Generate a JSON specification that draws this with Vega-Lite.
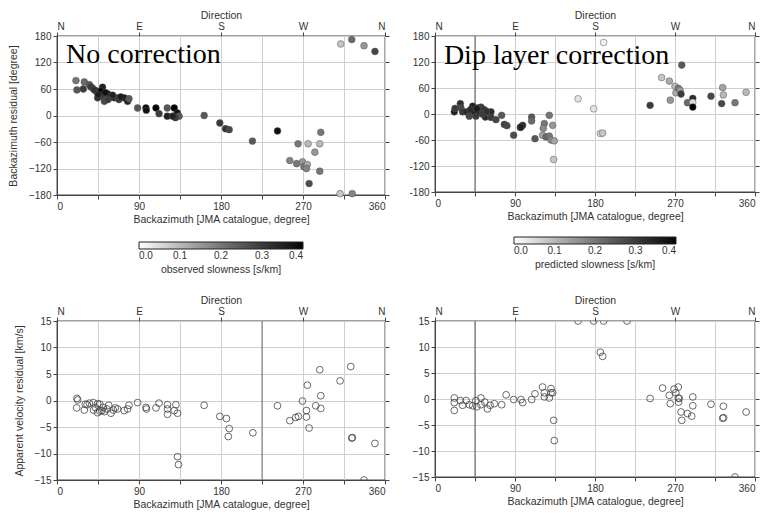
{
  "$schema": "https://vega.github.io/schema/vega-lite/v6.json",
  "padding": {"left": 7, "top": 9, "right": 5, "bottom": 5},
  "background": "white",
  "config": {
    "font": "Liberation Sans",
    "view": {"stroke": "#444", "strokeWidth": 1.3},
    "axis": {
      "labelFont": "Liberation Sans", "titleFont": "Liberation Sans",
      "labelFontSize": 10, "titleFontSize": 10.5, "titleFontWeight": "normal",
      "labelColor": "#333", "titleColor": "#333",
      "gridColor": "#cfcfcf", "gridWidth": 1,
      "domainColor": "#444", "tickColor": "#444", "tickSize": 4, "labelPadding": 2
    },
    "legend": {"labelFont": "Liberation Sans", "titleFont": "Liberation Sans"}
  },
  "datasets": {
    "tl": [
      {"az": 20.8, "res": 79, "s": 0.2}, {"az": 21.9, "res": 58, "s": 0.25}, {"az": 30, "res": 76, "s": 0.22},
      {"az": 28.9, "res": 60, "s": 0.3}, {"az": 35.5, "res": 70, "s": 0.25}, {"az": 39, "res": 62, "s": 0.28},
      {"az": 42.8, "res": 56, "s": 0.33}, {"az": 46.4, "res": 51, "s": 0.38}, {"az": 50, "res": 64, "s": 0.35},
      {"az": 49.3, "res": 44, "s": 0.3}, {"az": 52, "res": 32, "s": 0.28}, {"az": 44.6, "res": 40, "s": 0.32},
      {"az": 55.6, "res": 49, "s": 0.4}, {"az": 59, "res": 44, "s": 0.38}, {"az": 63, "res": 40, "s": 0.35},
      {"az": 57.4, "res": 40, "s": 0.36}, {"az": 66.5, "res": 40, "s": 0.33}, {"az": 73.8, "res": 40, "s": 0.38},
      {"az": 77.5, "res": 32, "s": 0.35}, {"az": 79, "res": 38, "s": 0.25}, {"az": 68, "res": 36, "s": 0.3},
      {"az": 37, "res": 65, "s": 0.3}, {"az": 48, "res": 55, "s": 0.4}, {"az": 53, "res": 52, "s": 0.38},
      {"az": 61, "res": 46, "s": 0.35}, {"az": 45, "res": 48, "s": 0.36}, {"az": 56, "res": 36, "s": 0.3},
      {"az": 41, "res": 58, "s": 0.32}, {"az": 70, "res": 42, "s": 0.36},
      {"az": 88.5, "res": 17, "s": 0.25}, {"az": 97.6, "res": 17, "s": 0.4}, {"az": 98, "res": 12, "s": 0.38},
      {"az": 108.6, "res": 17, "s": 0.4}, {"az": 112, "res": 4, "s": 0.3}, {"az": 121, "res": 17, "s": 0.25},
      {"az": 121, "res": -1.5, "s": 0.35}, {"az": 128.7, "res": 17, "s": 0.4}, {"az": 132, "res": 6, "s": 0.38},
      {"az": 134, "res": -1.5, "s": 0.25}, {"az": 130, "res": -5, "s": 0.3}, {"az": 127, "res": -1.5, "s": 0.35},
      {"az": 161.5, "res": 0, "s": 0.25}, {"az": 178.7, "res": -17, "s": 0.3}, {"az": 185, "res": -30, "s": 0.32},
      {"az": 189, "res": -32, "s": 0.28}, {"az": 214.5, "res": -58, "s": 0.25}, {"az": 242, "res": -35, "s": 0.38},
      {"az": 289.5, "res": -38, "s": 0.2}, {"az": 264.6, "res": -64, "s": 0.2}, {"az": 275.6, "res": -64, "s": 0.1},
      {"az": 288.4, "res": -64, "s": 0.1}, {"az": 283, "res": -83, "s": 0.15}, {"az": 255.5, "res": -102, "s": 0.18},
      {"az": 263, "res": -109, "s": 0.2}, {"az": 269.5, "res": -105, "s": 0.15}, {"az": 271, "res": -116, "s": 0.2},
      {"az": 274.8, "res": -111, "s": 0.12}, {"az": 273.8, "res": -120, "s": 0.18}, {"az": 288.4, "res": -126, "s": 0.2},
      {"az": 276.7, "res": -154, "s": 0.27}, {"az": 310.7, "res": -177, "s": 0.08}, {"az": 324, "res": -177, "s": 0.18},
      {"az": 311.4, "res": 162, "s": 0.08}, {"az": 323.5, "res": 172, "s": 0.22}, {"az": 337, "res": 158, "s": 0.15},
      {"az": 349, "res": 145, "s": 0.28}
    ],
    "tr": [
      {"az": 21.7, "res": 5, "s": 0.35}, {"az": 22.5, "res": 13, "s": 0.3}, {"az": 28.5, "res": 24, "s": 0.32},
      {"az": 29.2, "res": 14, "s": 0.28}, {"az": 31, "res": 5, "s": 0.3}, {"az": 35, "res": 5, "s": 0.33},
      {"az": 38.6, "res": -5, "s": 0.28}, {"az": 42.4, "res": 18, "s": 0.35}, {"az": 44.2, "res": 5, "s": 0.38},
      {"az": 46, "res": -5, "s": 0.3}, {"az": 48, "res": 14, "s": 0.33}, {"az": 50, "res": 5, "s": 0.35},
      {"az": 51.7, "res": 16, "s": 0.3}, {"az": 55.4, "res": 10, "s": 0.32}, {"az": 56.6, "res": -7, "s": 0.33},
      {"az": 61, "res": 1, "s": 0.28}, {"az": 63, "res": 5, "s": 0.33}, {"az": 63, "res": -8, "s": 0.3},
      {"az": 68.6, "res": -13, "s": 0.28}, {"az": 75, "res": -3, "s": 0.25}, {"az": 78, "res": -24, "s": 0.3},
      {"az": 81, "res": -27, "s": 0.28}, {"az": 88.5, "res": -49, "s": 0.27}, {"az": 96, "res": -31, "s": 0.36},
      {"az": 98.6, "res": -26, "s": 0.33}, {"az": 96.7, "res": -30, "s": 0.35},
      {"az": 40, "res": 10, "s": 0.33}, {"az": 47, "res": 12, "s": 0.36}, {"az": 53, "res": 0, "s": 0.3}, {"az": 58, "res": 6, "s": 0.32},
      {"az": 108.7, "res": -7, "s": 0.25}, {"az": 108.7, "res": -16, "s": 0.22}, {"az": 112.5, "res": -57, "s": 0.25},
      {"az": 123, "res": -22, "s": 0.2}, {"az": 121.8, "res": -33, "s": 0.17}, {"az": 121, "res": -49, "s": 0.13},
      {"az": 124.9, "res": -53, "s": 0.22}, {"az": 128.6, "res": -3, "s": 0.2}, {"az": 128.6, "res": -51, "s": 0.2},
      {"az": 132.4, "res": -26, "s": 0.15}, {"az": 130.5, "res": -60, "s": 0.17}, {"az": 134.2, "res": -62, "s": 0.13},
      {"az": 133.5, "res": -105, "s": 0.08},
      {"az": 161, "res": 35, "s": 0.04}, {"az": 178.5, "res": 12, "s": 0.04}, {"az": 189.7, "res": 165, "s": 0.02},
      {"az": 186, "res": -45, "s": 0.05}, {"az": 188.6, "res": -44, "s": 0.08},
      {"az": 242, "res": 20, "s": 0.3}, {"az": 255, "res": 84, "s": 0.08}, {"az": 263.6, "res": 76, "s": 0.12},
      {"az": 264.7, "res": 32, "s": 0.15}, {"az": 270, "res": 64, "s": 0.1}, {"az": 271, "res": 49, "s": 0.12},
      {"az": 273.8, "res": 59, "s": 0.2}, {"az": 275.7, "res": 55, "s": 0.15}, {"az": 276.8, "res": 46, "s": 0.3},
      {"az": 277.6, "res": 113, "s": 0.25}, {"az": 284, "res": 26, "s": 0.22}, {"az": 290, "res": 36, "s": 0.33},
      {"az": 290, "res": 27, "s": 0.05}, {"az": 290, "res": 16, "s": 0.4}, {"az": 310.5, "res": 41, "s": 0.28},
      {"az": 323.6, "res": 61, "s": 0.13}, {"az": 324.4, "res": 44, "s": 0.1}, {"az": 322.5, "res": 24, "s": 0.28},
      {"az": 337.5, "res": 26, "s": 0.2}, {"az": 350, "res": 50, "s": 0.1}
    ],
    "bl": [
      {"az": 21.9, "dv": 0.4}, {"az": 21.6, "dv": -1.4}, {"az": 22.7, "dv": 0.1}, {"az": 30, "dv": -1.8},
      {"az": 31, "dv": -0.7}, {"az": 35.5, "dv": -0.5}, {"az": 39.8, "dv": -0.4}, {"az": 42, "dv": -1.3},
      {"az": 44.6, "dv": -0.6}, {"az": 44.6, "dv": -2.3}, {"az": 47, "dv": -0.7}, {"az": 49.3, "dv": -1.9},
      {"az": 50.8, "dv": -1.3}, {"az": 52, "dv": -2.1}, {"az": 56.7, "dv": -0.9}, {"az": 59.2, "dv": -2.4},
      {"az": 61.8, "dv": -1.8}, {"az": 66.5, "dv": -1.6}, {"az": 73.8, "dv": -1.9}, {"az": 77.5, "dv": -1.6},
      {"az": 79, "dv": -0.9}, {"az": 40, "dv": -1.8}, {"az": 47, "dv": -2.0}, {"az": 55, "dv": -1.6},
      {"az": 64, "dv": -1.4}, {"az": 33, "dv": -0.8},
      {"az": 88.5, "dv": -0.4}, {"az": 97.6, "dv": -1.3}, {"az": 98.2, "dv": -1.6}, {"az": 108.6, "dv": -1.4},
      {"az": 112, "dv": -0.5}, {"az": 121.3, "dv": -0.8}, {"az": 121.3, "dv": -1.6}, {"az": 121.3, "dv": -2.6},
      {"az": 130.5, "dv": -0.8}, {"az": 128.7, "dv": -1.9}, {"az": 132.3, "dv": -2.4}, {"az": 132.3, "dv": -10.6},
      {"az": 133.4, "dv": -12.1}, {"az": 161.5, "dv": -0.9}, {"az": 178.7, "dv": -3.0}, {"az": 186, "dv": -3.4},
      {"az": 189, "dv": -5.3}, {"az": 188, "dv": -6.8}, {"az": 215, "dv": -6.1}, {"az": 242, "dv": -1.0},
      {"az": 255.5, "dv": -3.8}, {"az": 262, "dv": -3.2}, {"az": 265, "dv": -3.0}, {"az": 269.4, "dv": -0.1},
      {"az": 273.8, "dv": -1.9}, {"az": 273.8, "dv": -3.1}, {"az": 274.8, "dv": 2.9}, {"az": 276.7, "dv": -5.2},
      {"az": 284, "dv": -1.0}, {"az": 289.5, "dv": -1.5}, {"az": 288.4, "dv": 5.8}, {"az": 289.5, "dv": 0.9},
      {"az": 310.7, "dv": 3.7}, {"az": 322.4, "dv": 6.4}, {"az": 323.5, "dv": -7.1}, {"az": 324.2, "dv": -7.0},
      {"az": 337, "dv": -15}, {"az": 349, "dv": -8.1}
    ],
    "br": [
      {"az": 21.7, "dv": 0.2}, {"az": 21.7, "dv": -0.7}, {"az": 21.7, "dv": -2.2}, {"az": 28.5, "dv": -0.3},
      {"az": 31, "dv": -1.2}, {"az": 35, "dv": -0.3}, {"az": 38.6, "dv": -1.1}, {"az": 42.4, "dv": -1.3},
      {"az": 46, "dv": -0.3}, {"az": 47, "dv": -1.5}, {"az": 51.7, "dv": 0.2}, {"az": 51.7, "dv": -1.1},
      {"az": 56, "dv": -0.6}, {"az": 59, "dv": -1.9}, {"az": 62, "dv": -1.2}, {"az": 66.7, "dv": -0.9},
      {"az": 75, "dv": -1.1}, {"az": 80, "dv": 0.8}, {"az": 88.5, "dv": -0.1}, {"az": 96.7, "dv": -0.1},
      {"az": 98.6, "dv": -0.7}, {"az": 108.7, "dv": -0.1}, {"az": 112.5, "dv": 1.0}, {"az": 121, "dv": 2.3},
      {"az": 123, "dv": 0.4}, {"az": 123, "dv": 1.2}, {"az": 128.6, "dv": 0.2}, {"az": 130.5, "dv": 2.0},
      {"az": 130.5, "dv": 1.2}, {"az": 132.4, "dv": 1.2}, {"az": 133.5, "dv": -4.1}, {"az": 134.2, "dv": -8.0},
      {"az": 161, "dv": 15}, {"az": 178.5, "dv": 15}, {"az": 189.7, "dv": 15}, {"az": 216, "dv": 15},
      {"az": 186, "dv": 9.0}, {"az": 188.6, "dv": 8.2}, {"az": 242, "dv": 0.1}, {"az": 256, "dv": 2.1},
      {"az": 263.6, "dv": 0.7}, {"az": 264.7, "dv": -0.9}, {"az": 269, "dv": 1.9}, {"az": 271, "dv": 1.2},
      {"az": 273.7, "dv": 2.3}, {"az": 273.7, "dv": 0.2}, {"az": 274.8, "dv": 0.1}, {"az": 274, "dv": -0.6},
      {"az": 276.8, "dv": -2.5}, {"az": 277.6, "dv": -4.1}, {"az": 284, "dv": -2.8}, {"az": 290, "dv": 0.4},
      {"az": 290, "dv": -1.3}, {"az": 288.8, "dv": -3.3}, {"az": 310.5, "dv": -1.0}, {"az": 323.6, "dv": -3.7},
      {"az": 324.4, "dv": -1.4}, {"az": 324.7, "dv": -3.6}, {"az": 337.5, "dv": -15}, {"az": 350, "dv": -2.5}
    ]
  },
  "columns": 2,
  "spacing": {"row": 126, "column": 50},
  "bounds": "flush",
  "resolve": {"scale": {"x": "independent", "y": "independent", "color": "independent"}, "legend": {"color": "independent"}},
  "concat": [
    {
      "width": 328, "height": 159,
      "data": {"name": "tl"},
      "resolve": {"axis": {"x": "independent", "y": "independent"}},
      "layer": [
        {
          "mark": {"type": "circle", "size": 46, "opacity": 1, "stroke": "#555", "strokeWidth": 0.5},
          "encoding": {
            "x": {"field": "az", "type": "quantitative", "scale": {"domain": [0, 360], "nice": false},
              "axis": {"orient": "bottom", "values": [0, 45, 90, 135, 180, 225, 270, 315, 360], "labelExpr": "datum.value % 90 == 0 ? datum.label : ''", "title": "Backazimuth [JMA catalogue, degree]", "titlePadding": 3}},
            "y": {"field": "res", "type": "quantitative", "scale": {"domain": [-180, 180], "nice": false},
              "axis": {"orient": "left", "values": [-180, -120, -60, 0, 60, 120, 180], "title": "Backazimuth residual [degree]", "titlePadding": 10}},
            "color": {"field": "s", "type": "quantitative", "scale": {"domain": [0, 0.4], "range": ["#ffffff", "#000000"]},
              "legend": {"orient": "none", "legendX": 82, "legendY": 206, "direction": "horizontal", "gradientLength": 164, "gradientThickness": 7, "gradientStrokeColor": "#222", "gradientStrokeWidth": 1, "values": [0, 0.1, 0.2, 0.3, 0.4], "format": ".1f", "labelFontSize": 10, "labelColor": "#333", "title": "observed slowness [s/km]", "titleOrient": "bottom", "titleAnchor": "middle", "titleFontSize": 10.5, "titleFontWeight": "normal", "titleColor": "#333", "titlePadding": 4}}
          }
        },
        {
          "mark": {"type": "point", "opacity": 0},
          "encoding": {
            "x": {"field": "az", "type": "quantitative", "axis": {"orient": "top", "values": [0, 90, 180, 270, 360], "labelExpr": "['N','E','S','W','N'][datum.value / 90]", "grid": false, "domain": false, "title": "Direction", "titlePadding": 1, "labelPadding": 1}},
            "y": {"field": "res", "type": "quantitative", "axis": {"orient": "right", "values": [-180, -120, -60, 0, 60, 120, 180], "labels": false, "grid": false, "title": null, "domain": false}}
          }
        },
        {
          "data": {"values": [{"az": 10, "res": 118, "label": "No correction"}]},
          "mark": {"type": "text", "align": "left", "baseline": "alphabetic", "font": "Liberation Serif", "fontSize": 28, "color": "black"},
          "encoding": {"x": {"field": "az", "type": "quantitative", "axis": null}, "y": {"field": "res", "type": "quantitative", "axis": null}, "text": {"field": "label"}}
        }
      ]
    },
    {
      "width": 320, "height": 156,
      "data": {"name": "tr"},
      "resolve": {"axis": {"x": "independent", "y": "independent"}},
      "layer": [
        {
          "data": {"values": [{"az": 45}]},
          "mark": {"type": "rule", "color": "#333", "strokeWidth": 0.8},
          "encoding": {"x": {"field": "az", "type": "quantitative", "scale": {"domain": [0, 360], "nice": false},
            "axis": {"orient": "bottom", "values": [0, 45, 90, 135, 180, 225, 270, 315, 360], "labelExpr": "datum.value % 90 == 0 ? datum.label : ''", "title": "Backazimuth [JMA catalogue, degree]", "titlePadding": 3}}}
        },
        {
          "mark": {"type": "circle", "size": 46, "opacity": 1, "stroke": "#555", "strokeWidth": 0.5},
          "encoding": {
            "x": {"field": "az", "type": "quantitative", "axis": null},
            "y": {"field": "res", "type": "quantitative", "scale": {"domain": [-180, 180], "nice": false},
              "axis": {"orient": "left", "values": [-180, -120, -60, 0, 60, 120, 180], "labelExpr": "replace(datum.label, '\u2212', '-')", "title": null}},
            "color": {"field": "s", "type": "quantitative", "scale": {"domain": [0, 0.4], "range": ["#ffffff", "#000000"]},
              "legend": {"orient": "none", "legendX": 79, "legendY": 201, "direction": "horizontal", "gradientLength": 162, "gradientThickness": 7, "gradientStrokeColor": "#222", "gradientStrokeWidth": 1, "values": [0, 0.1, 0.2, 0.3, 0.4], "format": ".1f", "labelFontSize": 10, "labelColor": "#333", "title": "predicted slowness [s/km]", "titleOrient": "bottom", "titleAnchor": "middle", "titleFontSize": 10.5, "titleFontWeight": "normal", "titleColor": "#333", "titlePadding": 4}}
          }
        },
        {
          "mark": {"type": "point", "opacity": 0},
          "encoding": {
            "x": {"field": "az", "type": "quantitative", "axis": {"orient": "top", "values": [0, 90, 180, 270, 360], "labelExpr": "['N','E','S','W','N'][datum.value / 90]", "grid": false, "domain": false, "title": "Direction", "titlePadding": 1, "labelPadding": 1}},
            "y": {"field": "res", "type": "quantitative", "axis": {"orient": "right", "values": [-180, -120, -60, 0, 60, 120, 180], "labels": false, "grid": false, "title": null, "domain": false}}
          }
        },
        {
          "data": {"values": [{"az": 10, "res": 115, "label": "Dip layer correction"}]},
          "mark": {"type": "text", "align": "left", "baseline": "alphabetic", "font": "Liberation Serif", "fontSize": 28, "color": "black"},
          "encoding": {"x": {"field": "az", "type": "quantitative", "axis": null}, "y": {"field": "res", "type": "quantitative", "axis": null}, "text": {"field": "label"}}
        }
      ]
    },
    {
      "width": 328, "height": 159,
      "data": {"name": "bl"},
      "resolve": {"axis": {"x": "independent", "y": "independent"}},
      "layer": [
        {
          "data": {"values": [{"az": 225}]},
          "mark": {"type": "rule", "color": "#555", "strokeWidth": 0.8},
          "encoding": {"x": {"field": "az", "type": "quantitative", "scale": {"domain": [0, 360], "nice": false},
            "axis": {"orient": "bottom", "values": [0, 45, 90, 135, 180, 225, 270, 315, 360], "labelExpr": "datum.value % 90 == 0 ? datum.label : ''", "title": "Backazimuth [JMA catalogue, degree]", "titlePadding": 3}}}
        },
        {
          "mark": {"type": "point", "filled": false, "size": 46, "opacity": 1, "stroke": "#444", "strokeWidth": 0.8, "clip": true},
          "encoding": {
            "x": {"field": "az", "type": "quantitative", "axis": null},
            "y": {"field": "dv", "type": "quantitative", "scale": {"domain": [-15, 15], "nice": false},
              "axis": {"orient": "left", "values": [-15, -10, -5, 0, 5, 10, 15], "title": "Apparent velocity residual [km/s]", "titlePadding": 10}}
          }
        },
        {
          "mark": {"type": "point", "opacity": 0},
          "encoding": {
            "x": {"field": "az", "type": "quantitative", "axis": {"orient": "top", "values": [0, 90, 180, 270, 360], "labelExpr": "['N','E','S','W','N'][datum.value / 90]", "grid": false, "domain": false, "title": "Direction", "titlePadding": 1, "labelPadding": 1}},
            "y": {"field": "dv", "type": "quantitative", "axis": {"orient": "right", "values": [-15, -10, -5, 0, 5, 10, 15], "labels": false, "grid": false, "title": null, "domain": false}}
          }
        }
      ]
    },
    {
      "width": 320, "height": 156,
      "data": {"name": "br"},
      "resolve": {"axis": {"x": "independent", "y": "independent"}},
      "layer": [
        {
          "data": {"values": [{"az": 45}]},
          "mark": {"type": "rule", "color": "#333", "strokeWidth": 0.8},
          "encoding": {"x": {"field": "az", "type": "quantitative", "scale": {"domain": [0, 360], "nice": false},
            "axis": {"orient": "bottom", "values": [0, 45, 90, 135, 180, 225, 270, 315, 360], "labelExpr": "datum.value % 90 == 0 ? datum.label : ''", "title": "Backazimuth [JMA catalogue, degree]", "titlePadding": 3}}}
        },
        {
          "mark": {"type": "point", "filled": false, "size": 46, "opacity": 1, "stroke": "#444", "strokeWidth": 0.8, "clip": true},
          "encoding": {
            "x": {"field": "az", "type": "quantitative", "axis": null},
            "y": {"field": "dv", "type": "quantitative", "scale": {"domain": [-15, 15], "nice": false},
              "axis": {"orient": "left", "values": [-15, -10, -5, 0, 5, 10, 15], "title": null}}
          }
        },
        {
          "mark": {"type": "point", "opacity": 0},
          "encoding": {
            "x": {"field": "az", "type": "quantitative", "axis": {"orient": "top", "values": [0, 90, 180, 270, 360], "labelExpr": "['N','E','S','W','N'][datum.value / 90]", "grid": false, "domain": false, "title": "Direction", "titlePadding": 1, "labelPadding": 1}},
            "y": {"field": "dv", "type": "quantitative", "axis": {"orient": "right", "values": [-15, -10, -5, 0, 5, 10, 15], "labels": false, "grid": false, "title": null, "domain": false}}
          }
        }
      ]
    }
  ]
}
